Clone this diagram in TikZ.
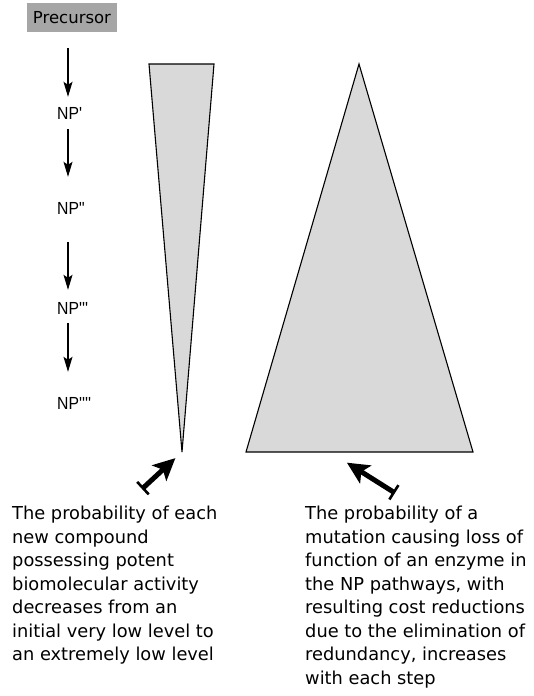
\documentclass[tikz,border=0pt]{standalone}
\usepackage{fontspec}
\newfontfamily\bodyfont{DejaVu Sans}
\newfontfamily\labelfont[FakeStretch=0.9]{Liberation Sans}
\definecolor{boxgray}{RGB}{166, 166, 166}
\definecolor{wedgegray}{RGB}{217, 217, 217}
\usetikzlibrary{arrows.meta, positioning, calc}

\begin{document}
\begin{tikzpicture}[x=1pt, y=-1pt,
    npstep/.style={font=\labelfont\fontsize{17.5}{17.5}\selectfont, anchor=west, inner sep=0pt, minimum height=14pt},
    flow/.style={-{Stealth[length=15pt, width=9pt, inset=3pt]}, line width=1.1pt},
    wedge/.style={fill=wedgegray, draw=black, line width=1.1pt, line join=miter},
    hint/.style={{Bar[width=17pt, line width=2.6pt]}-{Stealth[length=22pt, width=21pt, inset=5pt]}, line width=5pt},
    note/.style={font=\bodyfont\fontsize{17.8}{23.5}\selectfont, anchor=north west, inner sep=0pt, align=left}]
    \useasboundingbox (0,0) rectangle (534,696);
    % pathway
    \node[fill=boxgray, font=\bodyfont\fontsize{16.5}{16.5}\selectfont, minimum width=90pt, minimum height=29pt, inner sep=0pt] (prec) at (72,17.5) {Precursor};
    \coordinate (col) at (68,0);
    \node[npstep] (np1) at (57,113) {NP'};
    \node[npstep] (np2) at (57,208) {NP"};
    \node[npstep] (np3) at (57,308) {NP'''};
    \node[npstep] (np4) at (57,403) {NP''''};
    \draw[flow, shorten <=16pt, shorten >=9pt] (prec.south -| col) -- (np1.north -| col);
    \draw[flow, shorten <=9pt, shorten >=24pt] (np1.south -| col) -- (np2.north -| col);
    \draw[flow, shorten <=27pt, shorten >=11pt] (np2.south -| col) -- (np3.north -| col);
    \draw[flow, shorten <=8pt, shorten >=24pt] (np3.south -| col) -- (np4.north -| col);
    % wedges
    \coordinate (tipL) at (182,452);
    \coordinate (apexR) at (359,64);
    \draw[wedge] (149,64) -- (214,64) -- (tipL) -- cycle;
    \draw[wedge] (apexR) -- (473,452) -- (246,452) -- cycle;
    \coordinate (baseR) at (330,452);
    % notes
    \node[note] (left) at (12,506) {The probability of each\\new compound\\possessing potent\\biomolecular activity\\decreases from an\\initial very low level to\\an extremely low level};
    \node[note] (right) at (305,506) {The probability of a\\mutation causing loss of\\function of an enzyme in\\the NP pathways, with\\resulting cost reductions\\due to the elimination of\\redundancy, increases\\with each step};
    \coordinate (tailL) at (142,489);
    \coordinate (tailR) at (395,493);
    \draw[hint, shorten >=9pt] (tailL) -- (tipL);
    \draw[hint, shorten >=20pt] (tailR) -- (baseR);
\end{tikzpicture}
\end{document}
